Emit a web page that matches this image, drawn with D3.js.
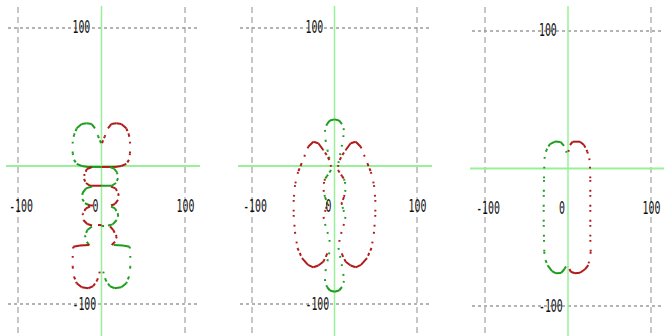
<!DOCTYPE html>
<html>
<head>
<meta charset="utf-8">
<script src="https://cdn.jsdelivr.net/npm/d3@7"></script>
<style>
  body { margin: 0; background: #fff; }
  svg { display: block; }
</style>
</head>
<body>
<script>
// grid lines and tick labels (same for all three plots)
const gridValues = [-100, 100];
const xTickValues = [-100, 0, 100];
const xTickLabels = ['-100', '0', '100'];
const yTickValues = [100, -100];
const yTickLabels = ['100', '-100'];
const labelRowY = -29;   // the x labels sit on this line, not on y=0

// plot 1 - curve pieces, [x, y] in plot units
const p1GreenTop = [[-0.6,16.5],[-3.8,21.2],[-7.8,27.3],[-11.7,30.4],[-17.7,30.9],[-23.7,30.4],[-29.7,27.3],[-32.9,22.5],[-34.5,17.6],[-34.5,9.2],[-32.9,4.4],[-29.7,1.5],[-23.7,0],[-16.2,-0.7],[-7.8,-0.7],[0,-0.7]];
const p1RedTop = [[0.6,16.5],[3.8,21.2],[7.8,27.3],[11.7,30.4],[17.7,30.9],[23.7,30.4],[29.7,27.3],[32.9,22.5],[34.1,17.6],[34.1,9.2],[32.9,4.4],[29.7,1.5],[23.7,0],[16.2,-0.7],[7.8,-0.7],[0,-0.7]];
const p1RedRow2 = [[-11.4,-0.7],[-17.4,-2.2],[-20.4,-5.8],[-21,-9.4],[-18.6,-12.3],[-13.8,-14.3],[0,-14.3]];
const p1GreenRow2 = [[10.2,-0.7],[15,-1.8],[18.6,-4.7],[19.8,-8.7],[17.4,-12.3],[12.2,-14.3],[0,-14.3]];
const p1GreenRow3 = [[-11.4,-14.9],[-18.6,-16.2],[-22.8,-19.6],[-23,-23.9],[-19.8,-27],[-13.8,-28.6]];
const p1RedRow3 = [[11.4,-14.9],[16.8,-16.2],[20.4,-20.3],[19.8,-24.6],[16.2,-27.5],[11.4,-28.6]];
const p1RedTick = [[-16.2,-28.6],[-10.2,-28.6]];
const p1RedRow4 = [[-13.8,-29.4],[-18.6,-30.7],[-22.5,-34.3],[-21.8,-39.1],[-17,-42],[-11.4,-43.1]];
const p1GreenRow4 = [[11.4,-29.4],[16.2,-30.7],[20.1,-35.5],[18.2,-39.1],[13.4,-42.3],[7.8,-43.1]];
const p1RedCentre = [[-4.2,-42.8],[0,-42.8]];
const p1GreenCentre = [[0,-43.5],[3,-43.5]];
const p1GreenRow5 = [[-11.4,-43.8],[-17,-46.4],[-19.8,-50.4],[-17.7,-54.9],[-14.6,-57.3]];
const p1RedRow5 = [[10.2,-43.8],[14.1,-46.4],[18.2,-51.2],[16.2,-54.9],[12.2,-57.3]];
const p1RedBottom = [[-14.6,-57.3],[-25.8,-57.6],[-33.8,-58.5],[-34.5,-65.2],[-34.5,-73],[-32.9,-80.2],[-29.7,-85],[-23.7,-87.9],[-15.8,-88.6],[-9.8,-87],[-5,-82.6],[-2.6,-77.8],[-1.2,-74.1]];
const p1GreenBottom = [[14.6,-57.3],[25.8,-57.6],[33.8,-58.5],[34.5,-65.2],[34.5,-73],[32.9,-80.2],[29.7,-85],[23.7,-87.9],[15.8,-88.6],[9.8,-87],[5,-82.6],[2.6,-77.8],[1.2,-74.1]];

// plot 2
const p2GreenTop = [[4.8,2.2],[6.7,8],[8.7,14],[10.7,21],[11.5,26.1],[9.1,30.4],[5.5,33],[0,33.8],[-5.5,33],[-9.1,30.4],[-11.5,26.1],[-10.9,18.8],[-8.5,11.6],[-6.7,6.7],[-4.6,2.2]];
const p2GreenBottom = [[4.8,-59.4],[6.7,-65.2],[8.7,-71.2],[10.7,-78.3],[11.5,-83.3],[9.1,-87.7],[5.5,-90.2],[0,-91.1],[-5.5,-90.2],[-9.1,-87.7],[-11.5,-83.3],[-10.9,-76],[-8.5,-68.8],[-6.7,-64],[-4.6,-59.4]];
const p2RedLeft = [[-4.2,-0.5],[-6.3,4.4],[-9.5,8],[-13.6,11.6],[-19.6,16.5],[-25.7,17.6],[-31.8,14],[-35.8,8],[-39.8,2],[-44.2,-4.4],[-47.9,-13.8],[-49.5,-24.6],[-49.5,-35.5],[-47.9,-47.8],[-44.9,-59.4],[-39.4,-66.7],[-32.1,-71.7],[-25.7,-73.4],[-19.6,-72.1],[-13.6,-69.4],[-9.5,-64.5],[-6.7,-60.1]];
const p2RedRight = [[4.2,-0.5],[6.3,4.4],[9.5,8],[13.6,11.6],[19.6,16.5],[25.7,17.6],[31.8,14],[35.8,8],[39.8,2],[44.2,-4.4],[47.9,-13.8],[49.5,-24.6],[49.5,-35.5],[47.9,-47.8],[44.9,-59.4],[39.4,-66.7],[32.1,-71.7],[25.7,-73.4],[19.6,-72.1],[13.6,-69.4],[9.5,-64.5],[6.7,-60.1]];
const p2GreenInL1 = [[-4.2,-2.9],[-9.1,-7.3],[-11.5,-9.4]];
const p2RedInL1 = [[-11.5,-9.4],[-12.7,-11.6],[-13.3,-17.4],[-12.1,-21]];
const p2GreenInL2 = [[-12.1,-21],[-11.5,-22.5],[-8.5,-26.8],[-9.7,-29.7]];
const p2RedInL2 = [[-9.7,-29.7],[-10.9,-31.9],[-13.3,-37],[-11.5,-42]];
const p2GreenInL3 = [[-11.5,-42],[-8.5,-47.8],[-6.1,-53.6],[-5.5,-58]];
const p2RedInR1 = [[4.2,-2.9],[9.1,-7.3],[11.5,-9.4]];
const p2GreenInR1 = [[11.5,-9.4],[12.7,-11.6],[13.3,-17.4],[12.1,-21]];
const p2RedInR2 = [[12.1,-21],[11.5,-22.5],[8.5,-26.8],[9.7,-29.7]];
const p2GreenInR2 = [[9.7,-29.7],[10.9,-31.9],[13.3,-37],[11.5,-42]];
const p2RedInR3 = [[11.5,-42],[8.5,-47.8],[6.1,-53.6],[5.5,-58]];

// plot 3
const p3Green = [[-1.6,11.5],[-4.8,16.4],[-9,19.3],[-15.7,19.6],[-21.7,17.8],[-25.9,13.5],[-28.1,8.4],[-28.6,1.3],[-28.9,-8.4],[-29.2,-19.3],[-29.3,-30.2],[-29.2,-41.1],[-28.9,-52],[-28.6,-60.7],[-27.1,-66.6],[-24.1,-70.9],[-19.3,-74.6],[-14.5,-76.2],[-8.4,-76],[-4.2,-73.1],[-1.6,-70.2]];
const p3Red = [[0.4,12.2],[2.4,17.1],[5.7,19.5],[14.5,19.5],[19.3,17.1],[23.3,12.2],[25.7,7.4],[26.5,1.3],[26.9,-8.4],[26.9,-19.3],[26.9,-30.2],[26.9,-41.1],[26.9,-52],[27.4,-60.7],[24.5,-70.2],[20.5,-73.3],[14.5,-75.8],[8.4,-76.2],[3.3,-75.1],[0.4,-71.4]];

const RED = '#b01a1a';
const GREEN = '#1c9e1c';
const AXIS = '#98f098';
const GRID = '#9a9a9a';

const panels = [
    { xRange: [18, 185], yRange: [304, 28], left: 6, right: 200, top: 6,
      curves: [[p1GreenTop, GREEN], [p1RedTop, RED], [p1RedRow2, RED], [p1GreenRow2, GREEN],
               [p1GreenRow3, GREEN], [p1RedRow3, RED], [p1RedTick, RED], [p1RedRow4, RED],
               [p1GreenRow4, GREEN], [p1RedCentre, RED], [p1GreenCentre, GREEN],
               [p1GreenRow5, GREEN], [p1RedRow5, RED], [p1RedBottom, RED], [p1GreenBottom, GREEN]] },
    { xRange: [252, 417], yRange: [304, 28], left: 238, right: 432, top: 6,
      curves: [[p2GreenTop, GREEN], [p2GreenBottom, GREEN], [p2RedLeft, RED], [p2RedRight, RED],
               [p2GreenInL1, GREEN], [p2RedInL1, RED], [p2GreenInL2, GREEN], [p2RedInL2, RED], [p2GreenInL3, GREEN],
               [p2RedInR1, RED], [p2GreenInR1, GREEN], [p2RedInR2, RED], [p2GreenInR2, GREEN], [p2RedInR3, RED]] },
    { xRange: [485, 651], yRange: [306, 31], left: 470, right: 664, top: 6,
      curves: [[p3Green, GREEN], [p3Red, RED]] }
];

const width = 664;
const height = 336;

let svg = d3.select('body')
    .append('svg')
        .attr('width', width)
        .attr('height', height);

// steep pieces come out as dots, flat pieces as solid line (like the original plotter)
function drawCurve(g, pts, colour, xScale, yScale) {
    for (let i = 1; i < pts.length; i++) {
        let x1 = xScale(pts[i - 1][0]), y1 = yScale(pts[i - 1][1]);
        let x2 = xScale(pts[i][0]), y2 = yScale(pts[i][1]);
        let steep = Math.abs(y2 - y1) / (Math.abs(x2 - x1) + 0.01);
        let dash = null;
        if (steep > 2.5) {
            dash = '1.8,8';
        } else if (steep > 1.4) {
            dash = '3,2.5';
        }
        g.append('line')
            .attr('x1', x1).attr('y1', y1)
            .attr('x2', x2).attr('y2', y2)
            .attr('stroke', colour)
            .attr('stroke-width', 2)
            .attr('stroke-dasharray', dash);
    }
}

function label(g, x, y, txt, anchor) {
    g.append('text')
        .attr('transform', `translate(${x}, ${y}) scale(0.58, 1)`)
        .attr('text-anchor', anchor)
        .attr('dominant-baseline', 'central')
        .attr('font-family', 'DejaVu Sans Mono, Liberation Mono, monospace')
        .attr('font-size', 17)
        .attr('fill', '#111')
        .text(txt);
}

panels.forEach(function(p) {
    const xScale = d3.scaleLinear().domain([-100, 100]).range(p.xRange);
    const yScale = d3.scaleLinear().domain([-100, 100]).range(p.yRange);
    let g = svg.append('g');

    // dashed grid at +-100
    gridValues.forEach(function(v) {
        g.append('line')
            .attr('x1', xScale(v)).attr('x2', xScale(v))
            .attr('y1', p.top + 1).attr('y2', height)
            .attr('stroke', GRID).attr('stroke-width', 1.1)
            .attr('stroke-dasharray', '6,4');
        g.append('line')
            .attr('x1', p.left + 2).attr('x2', p.right)
            .attr('y1', yScale(v)).attr('y2', yScale(v))
            .attr('stroke', GRID).attr('stroke-width', 1.4)
            .attr('stroke-dasharray', '3,3');
    });

    // axes through 0
    g.append('line')
        .attr('x1', xScale(0)).attr('x2', xScale(0))
        .attr('y1', p.top).attr('y2', height)
        .attr('stroke', AXIS).attr('stroke-width', 1.5);
    g.append('line')
        .attr('x1', p.left).attr('x2', p.right)
        .attr('y1', yScale(0)).attr('y2', yScale(0))
        .attr('stroke', AXIS).attr('stroke-width', 2);

    p.curves.forEach(function(c) {
        drawCurve(g, c[0], c[1], xScale, yScale);
    });

    // labels
    const rowY = yScale(labelRowY);
    label(g, xScale(xTickValues[0]) + 3, rowY, xTickLabels[0], 'middle');
    label(g, xScale(xTickValues[1]) - 6, rowY, xTickLabels[1], 'middle');
    label(g, xScale(xTickValues[2]) + 0.5, rowY, xTickLabels[2], 'middle');
    label(g, xScale(0) - 29, yScale(yTickValues[0]) - 1.5, yTickLabels[0], 'start');
    label(g, xScale(0) - 29, yScale(yTickValues[1]), yTickLabels[1], 'start');
});
</script>
</body>
</html>
